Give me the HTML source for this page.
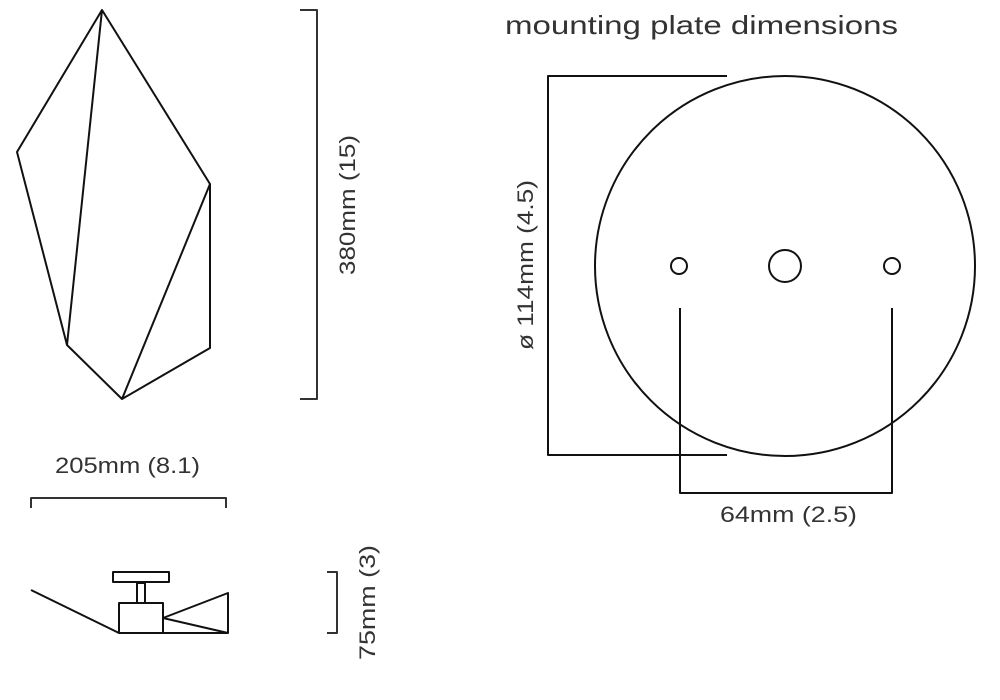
<!DOCTYPE html>
<html><head><style>
html,body{margin:0;padding:0;background:#fff;width:1000px;height:700px;overflow:hidden}
svg text{font-family:"Liberation Sans",sans-serif;fill:#333}
</style></head><body>
<svg width="1000" height="700" viewBox="0 0 1000 700" xmlns="http://www.w3.org/2000/svg">
<g fill="none" stroke="#111" stroke-width="2" stroke-linejoin="round">
<polygon points="102,10 17,152 67,345 122,399 210,348 210,184"/>
<line x1="102" y1="10" x2="67" y2="345"/>
<line x1="210" y1="184" x2="122" y2="399"/>
<polyline points="300,10 317,10 317,399 300,399" stroke="#333"/>
<polyline points="31,508 31,498 226,498 226,508" stroke="#333"/>
<line x1="31" y1="590" x2="119" y2="633"/>
<rect x="119" y="603" width="44" height="30"/>
<rect x="137" y="583" width="8" height="20"/>
<rect x="113" y="572" width="56" height="10"/>
<polygon points="163,618 228,593 228,633 163,633"/>
<line x1="163" y1="618" x2="228" y2="633"/>
<polyline points="327,572 337,572 337,633 327,633" stroke="#333"/>
<circle cx="785" cy="266" r="190"/>
<circle cx="679" cy="266" r="8"/>
<circle cx="892" cy="266" r="8"/>
<circle cx="785" cy="266" r="16"/>
<polyline points="727,76 548,76 548,455 727,455"/>
<polyline points="680,308 680,493 892,493 892,308"/>
</g>
<text x="505" y="34" font-size="26" textLength="393" lengthAdjust="spacingAndGlyphs">mounting plate dimensions</text>
<text x="55" y="473" font-size="22" textLength="145" lengthAdjust="spacingAndGlyphs">205mm (8.1)</text>
<text x="720" y="522" font-size="22" textLength="137" lengthAdjust="spacingAndGlyphs">64mm (2.5)</text>
<text transform="translate(355,275) rotate(-90)" font-size="22" textLength="140" lengthAdjust="spacingAndGlyphs">380mm (15)</text>
<text transform="translate(533,350) rotate(-90)" font-size="22" textLength="170" lengthAdjust="spacingAndGlyphs">ø 114mm (4.5)</text>
<text transform="translate(375,660) rotate(-90)" font-size="22" textLength="115" lengthAdjust="spacingAndGlyphs">75mm (3)</text>
</svg>
</body></html>
